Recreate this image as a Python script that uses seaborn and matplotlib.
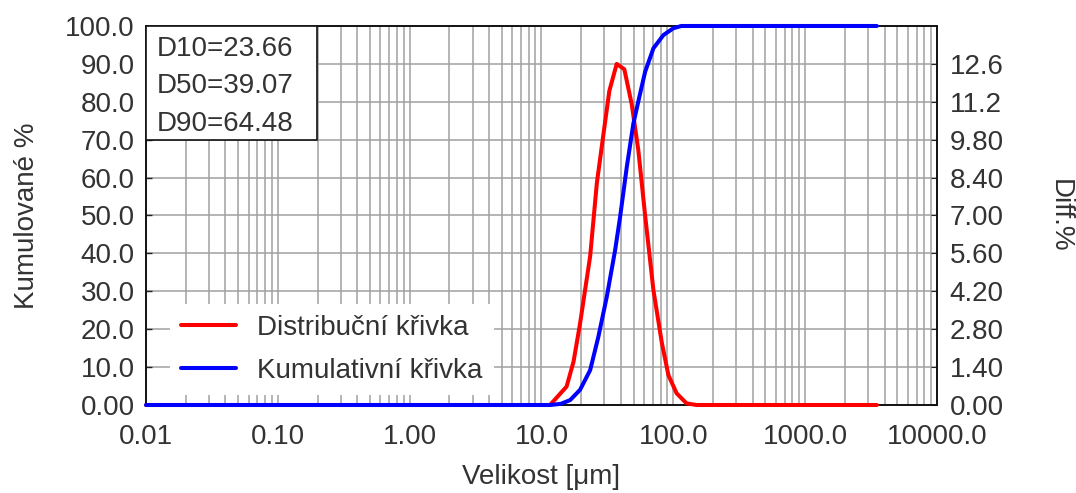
import matplotlib
matplotlib.use("Agg")
import matplotlib.pyplot as plt
import matplotlib.ticker as mticker
from matplotlib.patches import Rectangle
import seaborn as sns
import pandas as pd

# particle sizes [um] and differential % (red curve, right axis)
diff_size = [0.01, 11.6, 15.5, 17.5, 19.6, 23.4, 26.3, 29.5, 32.7, 37.2, 42.5,
             48.4, 54.3, 61.1, 70.6, 81.8, 91.8, 106, 126, 150, 3500]
diff_pct = [0.0, 0.0, 0.68, 1.6, 3.0, 5.5, 8.2, 10.0, 11.6, 12.6, 12.4,
            11.1, 9.4, 7.0, 4.25, 2.3, 1.1, 0.43, 0.06, 0.0, 0.0]

# cumulative % (blue curve, left axis)
cum_size = [0.01, 11.6, 14.0, 16.5, 19.6, 23.4, 27.0, 31.3, 36.2, 39.5, 44.4,
            49.8, 55.0, 61.1, 70.6, 84.1, 100, 115, 3500]
cum_pct = [0.0, 0.0, 0.3, 1.3, 4.0, 9.2, 18.0, 28.6, 40.9, 49.7, 62.9,
           74.3, 81.0, 87.9, 94.1, 97.6, 99.4, 100.0, 100.0]

stats = ["D10=23.66", "D50=39.07", "D90=64.48"]

x_ticks = [0.01, 0.1, 1, 10, 100, 1000, 10000]
x_labels = ["0.01", "0.10", "1.00", "10.0", "100.0", "1000.0", "10000.0"]
left_ticks = [0, 10, 20, 30, 40, 50, 60, 70, 80, 90, 100]
left_labels = ["0.00", "10.0", "20.0", "30.0", "40.0", "50.0", "60.0", "70.0", "80.0", "90.0", "100.0"]
right_ticks = [0, 1.4, 2.8, 4.2, 5.6, 7.0, 8.4, 9.8, 11.2, 12.6]
right_labels = ["0.00", "1.40", "2.80", "4.20", "5.60", "7.00", "8.40", "9.80", "11.2", "12.6"]

df_diff = pd.DataFrame({"size": diff_size, "diff": diff_pct})
df_cum = pd.DataFrame({"size": cum_size, "cum": cum_pct})

sns.set_style("white")
plt.rcParams['font.family'] = ['Liberation Sans', 'DejaVu Sans']
txt = "#333333"
fs = 20

fig = plt.figure(figsize=(10.76, 4.93), dpi=100)
ax = fig.add_axes([0.1357, 0.1785, 0.7351, 0.7688])
ax2 = ax.twinx()

# grid, frame and red curve on the lower (right) axes, blue on top
ax.set_zorder(2)
ax.patch.set_visible(False)
ax2.set_zorder(1)
ax2.patch.set_visible(True)
ax2.patch.set_facecolor("white")

sns.lineplot(data=df_diff, x="size", y="diff", ax=ax2, color="#ff0000", lw=2.9,
             label="Distribuční křivka", clip_on=False, zorder=3)
sns.lineplot(data=df_cum, x="size", y="cum", ax=ax, color="#0000ff", lw=2.9,
             label="Kumulativní křivka", clip_on=False, zorder=3)

ax.set_xscale("log")
ax.set_xlim(0.01, 10000)
ax.set_ylim(0, 100)
ax2.set_ylim(0, 14)

ax.set_xticks(x_ticks)
ax.set_xticklabels(x_labels)
ax.xaxis.set_minor_locator(mticker.LogLocator(base=10, subs=range(2, 10), numticks=20))
ax.xaxis.set_minor_formatter(mticker.NullFormatter())
ax.set_yticks(left_ticks)
ax.set_yticklabels(left_labels)
ax2.set_yticks(right_ticks)
ax2.set_yticklabels(right_labels)

ax2.xaxis.set_visible(True)
ax2.set_xlabel("")
ax2.tick_params(axis="x", which="both", bottom=False, top=False, labelbottom=False)
ax2.grid(True, which="both", axis="x", color="#a0a0a0", lw=1.1)
ax2.grid(True, which="major", axis="y", color="#a0a0a0", lw=1.1)
ax.grid(False)

ax.tick_params(axis="both", which="both", direction="in", colors="#222222", labelcolor=txt, labelsize=fs)
ax.tick_params(axis="x", which="minor", length=0)
ax.tick_params(axis="x", which="major", length=0, pad=14)
ax.tick_params(axis="y", length=4, pad=8, width=1)
ax2.tick_params(axis="y", direction="in", length=4, pad=9, labelcolor=txt, labelsize=fs)

for s in ax.spines.values():
    s.set_visible(False)
for s in ax2.spines.values():
    s.set_color("#111111")
    s.set_linewidth(1.4)

ax.set_xlabel("Velikost [μm]", fontsize=fs, color=txt, labelpad=10)
ax.set_ylabel("Kumulované %", fontsize=fs, color=txt, labelpad=18)
ax2.set_ylabel("Diff.%", fontsize=fs, color=txt, rotation=-90, labelpad=50)

# statistics box
ax.add_patch(Rectangle((0, 0.699), 0.216, 0.301, transform=ax.transAxes,
                       facecolor="white", edgecolor="#111111", lw=1.2, zorder=5))
for i, s in enumerate(stats):
    ax.text(0.014, 0.94 - i * 0.099, s, transform=ax.transAxes, fontsize=fs,
            color=txt, va="center", ha="left", zorder=6)

if ax2.get_legend() is not None:
    ax2.get_legend().remove()
h1, l1 = ax2.get_legend_handles_labels()
h2, l2 = ax.get_legend_handles_labels()
leg = ax.legend(h1 + h2, l1 + l2, loc="lower left", bbox_to_anchor=(0.03, 0.027),
                borderaxespad=0, frameon=True, facecolor="white", edgecolor="none",
                fancybox=False, framealpha=1, fontsize=fs, handlelength=2.0,
                handletextpad=0.75, labelspacing=0.6, borderpad=0.4)
for t in leg.get_texts():
    t.set_color(txt)
leg.set_zorder(6)

fig.savefig("out.png", dpi=100)
